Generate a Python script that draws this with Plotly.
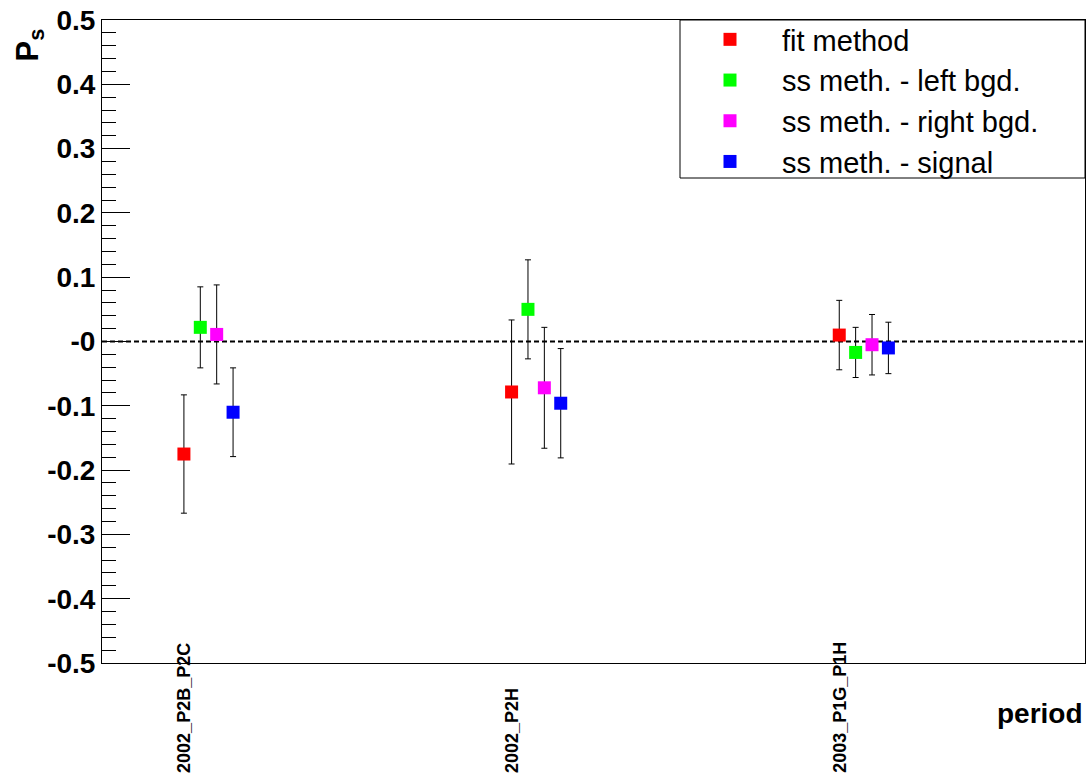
import plotly.graph_objects as go

FONT = "Liberation Sans, Arial, sans-serif"

periods = ["2002_P2B_P2C", "2002_P2H", "2003_P1G_P1H"]
series = ["fit method", "ss meth. - left bgd.", "ss meth. - right bgd.", "ss meth. - signal"]
colors = ["#ff0000", "#00ff00", "#ff00ff", "#0000ff"]

fit_val = [-0.175, -0.0785, 0.010]
fit_err = [0.092, 0.112, 0.054]
left_val = [0.022, 0.050, -0.017]
left_err = [0.063, 0.077, 0.039]
right_val = [0.011, -0.072, -0.005]
right_err = [0.077, 0.094, 0.047]
signal_val = [-0.110, -0.096, -0.010]
signal_err = [0.069, 0.085, 0.040]

y_ticks = [-0.5, -0.4, -0.3, -0.2, -0.1, 0.0, 0.1, 0.2, 0.3, 0.4, 0.5]
y_ticktext = ["-0.5", "-0.4", "-0.3", "-0.2", "-0.1", "-0", "0.1", "0.2", "0.3", "0.4", "0.5"]

values = [fit_val, left_val, right_val, signal_val]
errors = [fit_err, left_err, right_err, signal_err]

W, H = 1090, 780
PLOT_L, PLOT_R, PLOT_T, PLOT_B = 102, 1085, 20, 663
PW, PH = PLOT_R - PLOT_L, PLOT_B - PLOT_T


def px(x):
    return (x - PLOT_L) / PW


def py(y):
    return (PLOT_B - y) / PH


fig = go.Figure()
for k, (name, col, v, e) in enumerate(zip(series, colors, values, errors)):
    xs = [i + 0.25 + 0.05 * k for i in range(len(periods))]
    fig.add_trace(go.Scatter(
        x=xs, y=v, name=name, mode="markers", legendgroup=name,
        marker=dict(symbol="square", size=13, color=col, line_width=0),
        error_y=dict(type="data", array=e, color="black", thickness=1, width=3),
    ))

# dashed zero line
fig.add_shape(type="line", xref="paper", x0=0, x1=1, y0=0, y1=0,
              line=dict(color="black", width=2, dash="5px,3px"), layer="below")

# legend frame
fig.add_shape(type="rect", xref="paper", yref="paper", x0=px(680), x1=1, y0=py(178), y1=1,
              line=dict(color="black", width=1), fillcolor="white", layer="below")

for i, p in enumerate(periods):
    fig.add_annotation(x=i + 0.25, xref="x", y=py(775), yref="paper", text=f"<b>{p}</b>",
                       textangle=-90, xanchor="center", yanchor="bottom", showarrow=False,
                       font=dict(size=18, color="black"))

fig.add_annotation(x=px(7), xref="paper", y=py(27), yref="paper", text="<b>P<sub>s</sub></b>",
                   showarrow=False, textangle=-90, font=dict(size=31, color="black"))
fig.add_annotation(x=px(1085), xref="paper", y=py(713), yref="paper",
                   text="<b>period</b>", showarrow=False, xanchor="right", yanchor="middle",
                   font=dict(size=28, color="black"))

fig.update_layout(
    width=W, height=H,
    paper_bgcolor="white", plot_bgcolor="white",
    font=dict(family=FONT, color="black"),
    margin=dict(l=PLOT_L, r=W - PLOT_R, t=PLOT_T, b=H - PLOT_B),
    showlegend=True,
    legend=dict(x=px(678), y=py(14), xanchor="left", yanchor="top", bgcolor="rgba(0,0,0,0)",
                borderwidth=0, font=dict(size=29), itemwidth=94, tracegroupgap=0),
)

fig.update_xaxes(range=[0, 3], showgrid=False, zeroline=False, showticklabels=False,
                 ticks="", showline=True, linecolor="black", linewidth=1, mirror=True)
fig.update_yaxes(range=[-0.5, 0.5], showgrid=False, zeroline=False,
                 tickvals=y_ticks, ticktext=y_ticktext, ticklabeloverflow="allow",
                 ticks="inside", ticklen=28, tickwidth=1, tickcolor="black",
                 minor=dict(dtick=0.02, ticks="inside", ticklen=14, tickcolor="black", showgrid=False),
                 tickfont=dict(size=28, color="black", family=FONT, weight="bold"),
                 showline=True, linecolor="black", linewidth=1, mirror=True)

# drop the default body margin so the figure fills the window exactly
fig.write_html("out.html", config={"displayModeBar": False},
               post_script="document.body.style.margin='0';")
